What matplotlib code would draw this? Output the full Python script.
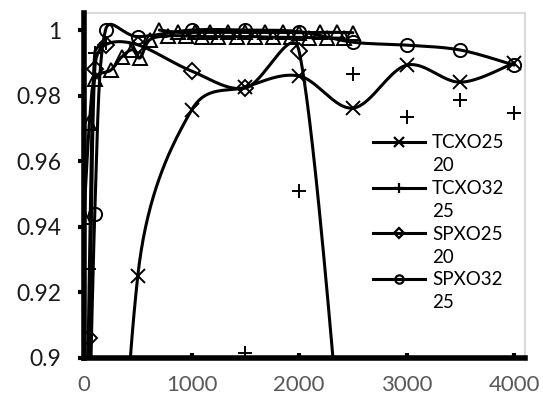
import numpy as np
import matplotlib.pyplot as plt
from matplotlib.lines import Line2D

plt.rcParams['font.family'] = ['Lato', 'DejaVu Sans']

# TCXO2520 (x markers)
tc2520_x = [0, 250, 500, 1000, 1500, 2000, 2500, 3000, 3500, 4000]
tc2520_y = [0.30, 0.75, 0.925, 0.9756, 0.9826, 0.986, 0.9762, 0.9893, 0.9841, 0.990]

# TCXO3225 (+ markers): joined part near zero, loose points further on
tc3225_x = [0, 50, 100, 200]
tc3225_y = [0.80, 0.927, 0.993, 0.996]
tc3225_px = [1500, 2000, 2500, 3000, 3500, 4000]
tc3225_py = [0.9015, 0.951, 0.9865, 0.9735, 0.9787, 0.9747]

# SPXO2520 (diamonds)
sp2520_x = [0, 50, 100, 200, 500, 1000, 1500, 2000, 2500]
sp2520_y = [0.85, 0.906, 0.988, 0.9955, 0.9955, 0.9875, 0.9823, 0.9935, 0.83]

# SPXO3225 (circles)
sp3225_x = [0, 100, 200, 500, 1000, 1500, 2000, 2500, 3000, 3500, 4000]
sp3225_y = [0.80, 0.944, 1.0, 0.998, 1.0, 1.0, 0.9995, 0.9963, 0.9954, 0.9939, 0.9893]

# two more triangle series (not in the legend)
triA_x = [0, 50, 100, 250, 350, 450, 520, 610, 780, 950, 1100, 1250, 1420, 1590, 1760, 1920, 2090, 2260, 2420]
triA_y = [0.943, 0.9716, 0.985, 0.9878, 0.9918, 0.994, 0.9915, 0.997, 0.9982, 0.9982, 0.998, 0.998, 0.998,
          0.998, 0.9978, 0.9978, 0.9977, 0.9976, 0.9975]
triB_x = [700, 870, 1030, 1170, 1340, 1500, 1680, 1850, 2000, 2190, 2350, 2500]
triB_y = [1.0, 0.9993, 0.9993, 0.9993, 0.9993, 0.9993, 0.9993, 0.9993, 0.9992, 0.9993, 0.9993, 0.9992]

legend_labels = ['TCXO25', '20', 'TCXO32', '25', 'SPXO25', '20', 'SPXO32', '25']

XMAX, YMIN, YMAX = 4100, 0.9, 1.0052
AX_W, AX_H = 441, 345  # plot area in pixels


def smooth(xs, ys, n=40):
    # excel style smoothed line, bezier control points worked out in pixel space
    kx, ky = AX_W / XMAX, AX_H / (YMAX - YMIN)
    p = np.column_stack([np.asarray(xs, float) * kx, np.asarray(ys, float) * ky])
    ext = np.vstack([p[0], p, p[-1]])
    t = np.linspace(0, 1, n)[1:, None]
    out = [p[:1]]
    for i in range(len(p) - 1):
        p0, p1, p2, p3 = ext[i], ext[i + 1], ext[i + 2], ext[i + 3]
        d12 = np.hypot(*(p2 - p1))
        d02 = np.hypot(*(p2 - p0))
        d13 = np.hypot(*(p3 - p1))
        f1 = 1 / 6 if d02 / 6 < d12 / 2 else d12 / (2 * d02)
        f2 = 1 / 6 if d13 / 6 < d12 / 2 else d12 / (2 * d13)
        c1 = p1 + (p2 - p0) * f1
        c2 = p2 - (p3 - p1) * f2
        out.append((1 - t) ** 3 * p1 + 3 * (1 - t) ** 2 * t * c1 + 3 * (1 - t) * t ** 2 * c2 + t ** 3 * p2)
    out = np.vstack(out)
    return out[:, 0] / kx, out[:, 1] / ky


fig = plt.figure(figsize=(5.43, 4.03), dpi=100)
ax = fig.add_axes([84 / 543, 45 / 403, AX_W / 543, AX_H / 403])

lw = 2.2
mk = dict(color='k', ls='none', mfc='none', mec='k', mew=1.4)

series = [
    (triA_x, triA_y, '^', 10),
    (triB_x, triB_y, '^', 10),
    (sp3225_x, sp3225_y, 'o', 9.5),
    (sp2520_x, sp2520_y, 'D', 8),
    (tc3225_x, tc3225_y, '+', 10),
    (tc2520_x, tc2520_y, 'x', 9.5),
]
for xs, ys, m, ms in series:
    sx, sy = smooth(xs, ys)
    ax.plot(sx, sy, color='k', lw=lw, solid_capstyle='round')
    ax.plot(xs, ys, marker=m, ms=ms, **mk)
ax.plot(tc3225_px, tc3225_py, marker='+', ms=10, **mk)

ax.set_xlim(0, XMAX)
ax.set_ylim(YMIN, YMAX)
ax.set_xticks([0, 1000, 2000, 3000, 4000])
ax.set_xticklabels(['0', '1000', '2000', '3000', '4000'])
ax.set_yticks([0.9, 0.92, 0.94, 0.96, 0.98, 1.0])
ax.set_yticklabels(['0.9', '0.92', '0.94', '0.96', '0.98', '1'])

for s in ['left', 'bottom']:
    ax.spines[s].set_linewidth(4)
    ax.spines[s].set_color('k')
    ax.spines[s].set_zorder(5)
for s in ['top', 'right']:
    ax.spines[s].set_linewidth(1.5)
    ax.spines[s].set_color('#d9d9d9')

ax.tick_params(axis='y', direction='out', length=4.5, width=3, pad=12, labelsize=16.5, labelcolor='#1a1a1a')
ax.tick_params(axis='x', direction='in', length=3.5, width=3, pad=12, labelsize=16, labelcolor='#595959')

handles = []
for m, ms in [('x', 7), ('+', 7), ('D', 5), ('o', 6)]:
    handles.append(Line2D([], [], color='k', lw=lw, marker=m, ms=ms, mfc='none', mec='k', mew=1.6))
    handles.append(Line2D([], [], ls='none'))
ax.legend(handles, legend_labels, loc='upper left', bbox_to_anchor=(0.655, 0.648), frameon=False,
          fontsize=13.5, handlelength=2.8, handletextpad=0.35, labelspacing=0.31, borderpad=0,
          borderaxespad=0)

fig.savefig('out.png', dpi=100)
